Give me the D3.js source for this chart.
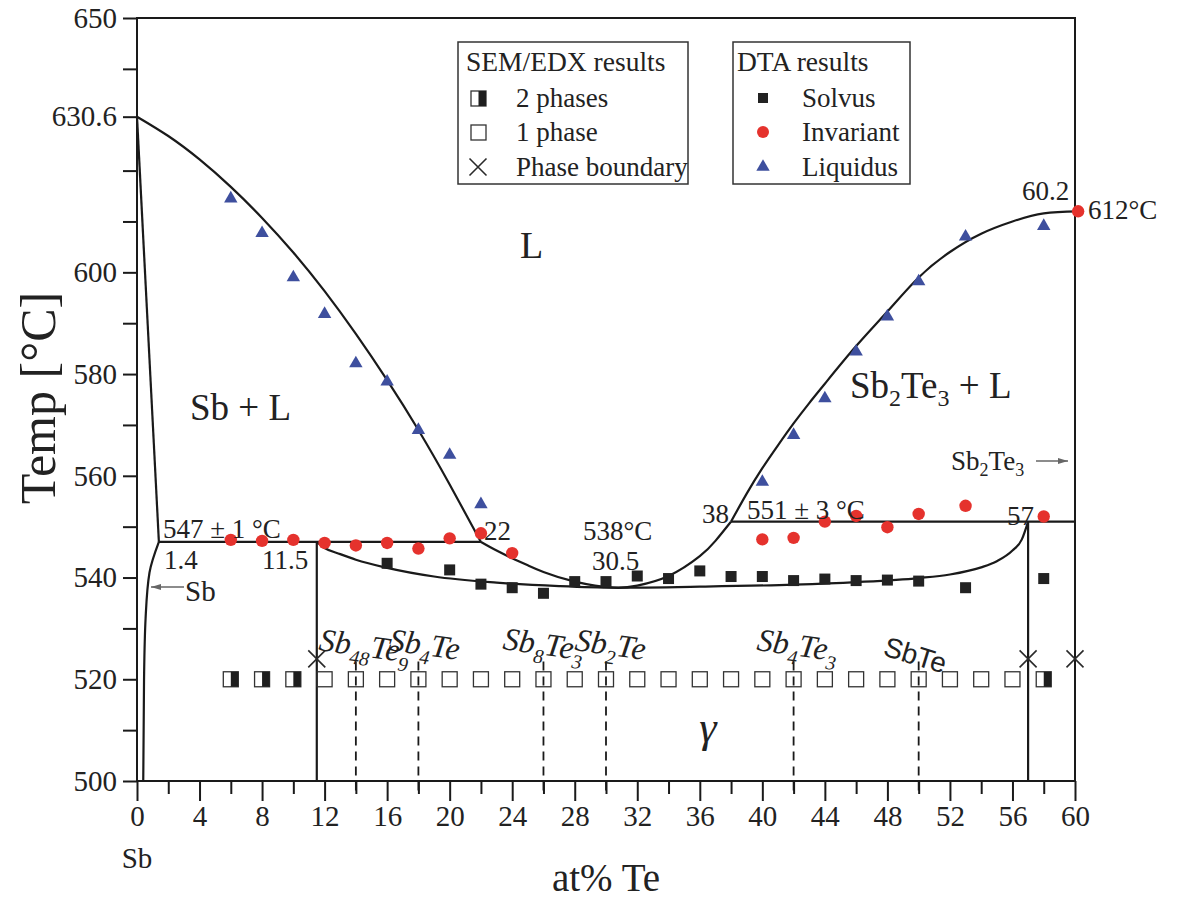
<!DOCTYPE html>
<html>
<head>
<meta charset="utf-8">
<script src="https://cdn.jsdelivr.net/npm/d3@7"></script>
<style>
  body { margin: 0; background: #fff; }
  svg { display: block; }
  text { font-family: "Liberation Serif", "Times New Roman", serif; fill: #222; }
</style>
</head>
<body>
<svg id="chart" width="1178" height="901"></svg>
<script>
// ---- Sb–Te phase diagram data (composition in at% Te, temperature in °C) ----
const xTicks = d3.range(0, 61, 2);
const yTicks = [500, 510, 520, 530, 540, 550, 560, 570, 580, 590, 600, 610, 620, 630.6, 640, 650];
const yTickLabels = ["500", "", "520", "", "540", "", "560", "", "580", "", "600", "", "", "630.6", "", "650"];

// phase boundaries
const liquidusSbSide = [[0,630.6],[2,626.8],[4,622.2],[6,616.8],[8,610.7],[10,603.9],[12,596.3],[14,587.9],[16,578.8],[18,569.0],[20,558.3],[22,547]];
const liquidusValley = [[22,547],[23,545.3],[24,543.8],[25,542.4],[26,541.1],[28,539.2],[30.5,538],[32,538.4],[34,540.3],[36,544.2],[37,547.2],[38,551]];
const liquidusSb2Te3Side = [[38,551],[39,556.5],[40,561.5],[41,566.0],[42,570.3],[43,574.3],[44,578.1],[46,585.5],[48,592.3],[50,599.0],[52,604.0],[54,607.6],[56,610.0],[58,611.6],[60.2,612]];
const solidusSb = [[0,630.6],[1.4,547]];
const solvusSb = [[1.4,547],[0.8,541],[0.55,532],[0.45,520],[0.4,500]];
const solvusGamma = [[11.5,547],[12,545.8],[13,544.6],[14,543.5],[16,541.9],[19,540.2],[23,539.0],[27,538.3],[30.5,538],[36,538.2],[42,538.6],[46,539.1],[50,539.9],[52,540.6],[54,542],[55,543.2],[56,545.3],[56.6,547.5],[57,551]];
const eutecticSb = { x: [1.4, 22], T: 547 };
const eutecticSb2Te3 = { x: [38, 60], T: 551 };
const gammaLeftLimit = { x: 11.5, T: [547, 500] };
const gammaRightLimit = { x: 57, T: [551, 500] };

// DTA results
const liquidusX = [6, 8, 10, 12, 14, 16, 18, 20, 22, 40, 42, 44, 46, 48, 50, 53, 58];
const liquidusT = [614.5, 607.7, 599.0, 591.8, 582.1, 578.5, 569.0, 564.1, 554.4, 558.8, 568.0, 575.2, 584.4, 591.3, 598.2, 607.0, 609.1];
const invariantX = [6, 8, 10, 12, 14, 16, 18, 20, 22, 24, 40, 42, 44, 46, 48, 50, 53, 58, 60.2];
const invariantT = [547.4, 547.2, 547.4, 546.8, 546.3, 546.8, 545.7, 547.7, 548.7, 544.8, 547.5, 547.8, 551.0, 552.1, 549.9, 552.5, 554.1, 552.0, 612];
const solvusX = [16, 20, 22, 24, 26, 28, 30, 32, 34, 36, 38, 40, 42, 44, 46, 48, 50, 53, 58];
const solvusT = [542.8, 541.5, 538.7, 538.0, 536.9, 539.2, 539.2, 540.3, 539.8, 541.3, 540.2, 540.2, 539.4, 539.7, 539.4, 539.5, 539.3, 538.0, 539.8];

// SEM/EDX results (annealed at 520 °C)
const semT = 520;
const twoPhaseX = [6, 8, 10, 58];
const onePhaseX = [12, 14, 16, 18, 20, 22, 24, 26, 28, 30, 32, 34, 36, 38, 40, 42, 44, 46, 48, 50, 52, 54, 56];
const boundaryX = [11.5, 57, 60];
const boundaryT = 524;

// intermediate compounds in the γ field
const compoundX = [14, 18, 26, 30, 42, 50];
const compoundTopT = 523.5;

// ---- layout ----
const svg = d3.select("#chart");
const plotL = 137, plotR = 1075, plotT = 18, plotB = 781;
const x = d3.scaleLinear().domain([0, 60]).range([plotL, plotR]);
const y = d3.scaleLinear().domain([500, 650]).range([plotB, plotT]);
const ink = "#1a1a1a";

const line = d3.line().x(d => x(d[0])).y(d => y(d[1]));
const smooth = d3.line().x(d => x(d[0])).y(d => y(d[1])).curve(d3.curveNatural);
const smoothM = d3.line().x(d => x(d[0])).y(d => y(d[1])).curve(d3.curveMonotoneX);
const smoothY = d3.line().x(d => x(d[0])).y(d => y(d[1])).curve(d3.curveMonotoneY);

// frame
svg.append("rect").attr("x", plotL).attr("y", plotT).attr("width", plotR - plotL).attr("height", plotB - plotT)
  .attr("fill", "none").attr("stroke", ink).attr("stroke-width", 2);

// axes
const xAxis = svg.append("g").attr("transform", `translate(0,${plotB})`)
  .call(d3.axisBottom(x).tickValues(xTicks).tickSize(20).tickPadding(4)
    .tickFormat(d => d % 4 === 0 ? d : ""));
xAxis.select(".domain").remove();
xAxis.selectAll(".tick line").attr("y2", d => d % 4 === 0 ? 20 : 13).attr("stroke", ink).attr("stroke-width", 2);
xAxis.selectAll(".tick text").style("font-family", "Liberation Serif").style("font-size", "29px").attr("fill", ink);

const yAxis = svg.append("g").attr("transform", `translate(${plotL},0)`)
  .call(d3.axisLeft(y).tickValues(yTicks).tickSize(14).tickPadding(6)
    .tickFormat((d, i) => yTickLabels[i]));
yAxis.select(".domain").remove();
yAxis.selectAll(".tick line").attr("stroke", ink).attr("stroke-width", 2);
yAxis.selectAll(".tick text").style("font-family", "Liberation Serif").style("font-size", "29px").attr("fill", ink);

// axis titles
svg.append("text").attr("x", x(0)).attr("y", 868).attr("text-anchor", "middle")
  .style("font-size", "29px").text("Sb");
svg.append("text").attr("x", 606).attr("y", 891).attr("text-anchor", "middle")
  .style("font-size", "39px").text("at% Te");
svg.append("text").attr("transform", "translate(55,398) rotate(-90)").attr("text-anchor", "middle")
  .style("font-size", "50px").text("Temp [°C]");

// phase boundaries
const curves = svg.append("g").attr("fill", "none").attr("stroke", ink).attr("stroke-width", 2.2);
curves.append("path").attr("d", smooth(liquidusSbSide));
curves.append("path").attr("d", smooth(liquidusValley));
curves.append("path").attr("d", smooth(liquidusSb2Te3Side));
curves.append("path").attr("d", line(solidusSb));
curves.append("path").attr("d", smoothY(solvusSb.slice().reverse()));
curves.append("path").attr("d", smoothM(solvusGamma));
curves.append("path").attr("d", line(eutecticSb.x.map(v => [v, eutecticSb.T])));
curves.append("path").attr("d", line(eutecticSb2Te3.x.map(v => [v, eutecticSb2Te3.T])));
curves.append("path").attr("d", line(gammaLeftLimit.T.map(t => [gammaLeftLimit.x, t])));
curves.append("path").attr("d", line(gammaRightLimit.T.map(t => [gammaRightLimit.x, t])));

// compound composition lines (dashed)
svg.append("g").selectAll("line").data(compoundX).join("line")
  .attr("x1", d => x(d)).attr("x2", d => x(d))
  .attr("y1", y(compoundTopT)).attr("y2", plotB + 13)
  .attr("stroke", ink).attr("stroke-width", 1.8).attr("stroke-dasharray", "9,6");

// SEM/EDX squares
const sq = 15;
const sem = svg.append("g");
sem.selectAll("rect.one").data(onePhaseX).join("rect").attr("class", "one")
  .attr("x", d => x(d) - sq / 2).attr("y", y(semT) - sq / 2).attr("width", sq).attr("height", sq)
  .attr("fill", "none").attr("stroke", "#333").attr("stroke-width", 1.3);
const two = sem.selectAll("g.two").data(twoPhaseX).join("g").attr("class", "two");
two.append("rect").attr("x", d => x(d) - sq / 2).attr("y", y(semT) - sq / 2).attr("width", sq).attr("height", sq)
  .attr("fill", "#fff").attr("stroke", "#333").attr("stroke-width", 1.3);
two.append("rect").attr("x", d => x(d)).attr("y", y(semT) - sq / 2).attr("width", sq / 2).attr("height", sq)
  .attr("fill", "#1e1e1e");

// phase boundary crosses
const cross = (g, cx, cy, r) => g.append("path")
  .attr("d", `M${cx - r},${cy - r}L${cx + r},${cy + r}M${cx - r},${cy + r}L${cx + r},${cy - r}`)
  .attr("stroke", "#2a2a2a").attr("stroke-width", 1.6).attr("fill", "none");
const crosses = svg.append("g");
boundaryX.forEach(v => cross(crosses, x(v), y(boundaryT), 8.5));

// DTA markers
const dta = svg.append("g");
dta.selectAll("rect").data(solvusX.map((v, i) => [v, solvusT[i]])).join("rect")
  .attr("x", d => x(d[0]) - 5.5).attr("y", d => y(d[1]) - 5.5).attr("width", 11).attr("height", 11)
  .attr("fill", "#222");
dta.selectAll("circle").data(invariantX.map((v, i) => [v, invariantT[i]])).join("circle")
  .attr("cx", d => x(d[0])).attr("cy", d => y(d[1])).attr("r", 6.2)
  .attr("fill", "#e5322d");
const tri = d3.symbol().type(d3.symbolTriangle).size(78);
dta.selectAll("path").data(liquidusX.map((v, i) => [v, liquidusT[i]])).join("path")
  .attr("transform", d => `translate(${x(d[0])},${y(d[1])})`).attr("d", tri)
  .attr("fill", "#3e4f9e");

// region labels
const lbl = svg.append("g");
lbl.append("text").attr("x", 520).attr("y", 258).style("font-size", "38px").text("L");
lbl.append("text").attr("x", 190).attr("y", 420).style("font-size", "37px").text("Sb + L");
const sb2te3L = lbl.append("text").attr("x", 850).attr("y", 398).style("font-size", "37px");
sb2te3L.append("tspan").text("Sb");
sb2te3L.append("tspan").attr("dy", 8).style("font-size", "24px").text("2");
sb2te3L.append("tspan").attr("dy", -8).text("Te");
sb2te3L.append("tspan").attr("dy", 8).style("font-size", "24px").text("3");
sb2te3L.append("tspan").attr("dy", -8).text(" + L");
lbl.append("text").attr("x", 708).attr("y", 742).attr("text-anchor", "middle")
  .style("font-size", "44px").style("font-style", "italic").text("γ");

// invariant-point annotations
const ann = [
  { t: "547 ± 1 °C", px: 163, py: 538 },
  { t: "1.4", px: 164, py: 569 },
  { t: "11.5", px: 262, py: 569 },
  { t: "22", px: 484, py: 540 },
  { t: "538°C", px: 583, py: 540 },
  { t: "30.5", px: 592, py: 570 },
  { t: "38", px: 702, py: 523 },
  { t: "551 ± 3 °C", px: 747, py: 519 },
  { t: "57", px: 1007, py: 525 },
  { t: "60.2", px: 1022, py: 200 },
  { t: "612°C", px: 1088, py: 219 }
];
lbl.selectAll("text.ann").data(ann).join("text").attr("class", "ann")
  .attr("x", d => d.px).attr("y", d => d.py).style("font-size", "27px").text(d => d.t);

// pure-phase pointers
svg.append("defs").append("marker").attr("id", "head").attr("viewBox", "0 0 10 6")
  .attr("refX", 10).attr("refY", 3).attr("markerWidth", 11).attr("markerHeight", 6)
  .attr("markerUnits", "userSpaceOnUse").attr("orient", "auto")
  .append("path").attr("d", "M0,0L10,3L0,6Z").attr("fill", "#666");
svg.append("line").attr("x1", 184).attr("x2", 151).attr("y1", 587).attr("y2", 587)
  .attr("stroke", "#666").attr("stroke-width", 1.5).attr("marker-end", "url(#head)");
lbl.append("text").attr("x", 185).attr("y", 601).style("font-size", "29px").text("Sb");
const sb2te3 = lbl.append("text").attr("x", 951).attr("y", 470).style("font-size", "27px");
sb2te3.append("tspan").text("Sb");
sb2te3.append("tspan").attr("dy", 6).style("font-size", "18px").text("2");
sb2te3.append("tspan").attr("dy", -6).text("Te");
sb2te3.append("tspan").attr("dy", 6).style("font-size", "18px").text("3");
svg.append("line").attr("x1", 1036).attr("x2", 1068).attr("y1", 461).attr("y2", 461)
  .attr("stroke", "#666").attr("stroke-width", 1.5).attr("marker-end", "url(#head)");

// compound names
const compounds = [
  { parts: [["Sb", 0], ["48", 1], ["Te", 0], ["9", 1]], px: 318, py: 650, rot: 8 },
  { parts: [["Sb", 0], ["4", 1], ["Te", 0]], px: 388, py: 650, rot: 8 },
  { parts: [["Sb", 0], ["8", 1], ["Te", 0], ["3", 1]], px: 502, py: 649, rot: 8 },
  { parts: [["Sb", 0], ["2", 1], ["Te", 0]], px: 574, py: 650, rot: 8 },
  { parts: [["Sb", 0], ["4", 1], ["Te", 0], ["3", 1]], px: 756, py: 650, rot: 8 }
];
compounds.forEach(c => {
  const t = lbl.append("text").attr("x", c.px).attr("y", c.py)
    .attr("transform", `rotate(${c.rot},${c.px},${c.py})`)
    .style("font-size", "32px").style("font-style", "italic");
  let low = false;
  c.parts.forEach(([s, sub]) => {
    const ts = t.append("tspan").text(s);
    if (sub && !low) { ts.attr("dy", 9).style("font-size", "20px"); low = true; }
    else if (!sub && low) { ts.attr("dy", -9); low = false; }
  });
});
lbl.append("text").attr("x", 882).attr("y", 655).attr("transform", "rotate(17,882,655)")
  .style("font-family", "Liberation Sans").style("font-size", "28px").text("SbTe");

// legends
const legend = svg.append("g");
legend.append("rect").attr("x", 458).attr("y", 42).attr("width", 230).attr("height", 142)
  .attr("fill", "#fff").attr("stroke", "#333").attr("stroke-width", 1.5);
legend.append("rect").attr("x", 733).attr("y", 42).attr("width", 177).attr("height", 142)
  .attr("fill", "#fff").attr("stroke", "#333").attr("stroke-width", 1.5);
legend.append("text").attr("x", 466).attr("y", 71).style("font-size", "27.5px").text("SEM/EDX results");
legend.append("text").attr("x", 737).attr("y", 71).style("font-size", "27.5px").text("DTA results");
const rowY = [98, 132, 167];
["2 phases", "1 phase", "Phase boundary"].forEach((t, i) =>
  legend.append("text").attr("x", 516).attr("y", rowY[i] + 9).style("font-size", "27px").text(t));
["Solvus", "Invariant", "Liquidus"].forEach((t, i) =>
  legend.append("text").attr("x", 802).attr("y", rowY[i] + 9).style("font-size", "27px").text(t));
legend.append("rect").attr("x", 471).attr("y", rowY[0] - 7).attr("width", 15).attr("height", 15)
  .attr("fill", "#fff").attr("stroke", "#333").attr("stroke-width", 1.3);
legend.append("rect").attr("x", 478.5).attr("y", rowY[0] - 7).attr("width", 7.5).attr("height", 15).attr("fill", "#1e1e1e");
legend.append("rect").attr("x", 471).attr("y", rowY[1] - 7).attr("width", 15).attr("height", 15)
  .attr("fill", "#fff").attr("stroke", "#333").attr("stroke-width", 1.3);
cross(legend, 478, rowY[2], 8.5);
legend.append("rect").attr("x", 758).attr("y", rowY[0] - 5).attr("width", 10).attr("height", 10).attr("fill", "#222");
legend.append("circle").attr("cx", 763).attr("cy", rowY[1]).attr("r", 6).attr("fill", "#e5322d");
legend.append("path").attr("transform", `translate(763,${rowY[2]})`).attr("d", tri).attr("fill", "#3e4f9e");
</script>
</body>
</html>
